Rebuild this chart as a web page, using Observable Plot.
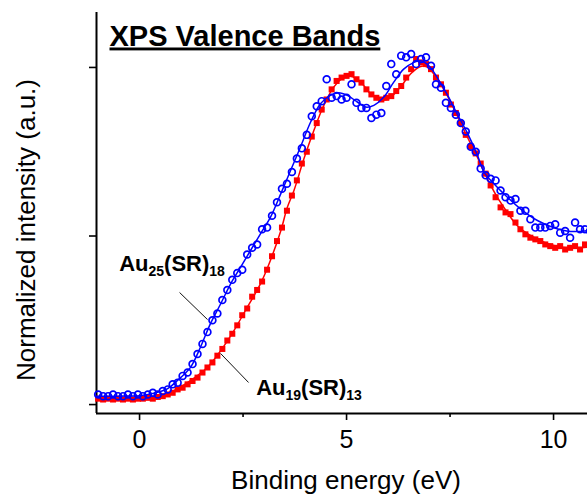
<!DOCTYPE html>
<html><head><meta charset="utf-8">
<script src="https://cdn.jsdelivr.net/npm/d3@7"></script>
<script src="https://cdn.jsdelivr.net/npm/@observablehq/plot@0.6"></script>
<style>html,body{margin:0;padding:0;background:#fff} svg{display:block}</style>
</head><body><div id="chart"></div>
<script>
const chartTitle = "XPS Valence Bands";
const xLabel = "Binding energy (eV)";
const yLabel = "Normalized intensity (a.u.)";
const xTicks = [0, 5, 10];
const xMinorTicks = [2.5, 7.5];
const yTicks = [0, 1, 2];

// Au25(SR)18 measured points (blue open circles)
const blueE = [-1.00,-0.88,-0.76,-0.64,-0.52,-0.40,-0.28,-0.16,-0.04,0.08,0.20,0.32,0.44,0.56,0.68,0.80,0.92,1.04,1.16,1.28,1.40,1.52,1.64,1.76,1.88,2.00,2.12,2.24,2.36,2.48,2.60,2.72,2.84,2.96,3.08,3.20,3.32,3.44,3.56,3.68,3.80,3.92,4.04,4.16,4.28,4.40,4.52,4.64,4.76,4.88,5.00,5.12,5.24,5.36,5.48,5.60,5.72,5.84,5.96,6.08,6.20,6.32,6.44,6.56,6.68,6.80,6.92,7.04,7.16,7.28,7.40,7.52,7.64,7.76,7.88,8.00,8.12,8.24,8.36,8.48,8.60,8.72,8.84,8.96,9.08,9.20,9.32,9.44,9.56,9.68,9.80,9.92,10.04,10.16,10.28,10.40,10.52,10.64,10.76,10.88];
const blueI = [0.06,0.05,0.05,0.06,0.05,0.05,0.06,0.05,0.06,0.05,0.06,0.07,0.06,0.08,0.09,0.12,0.13,0.17,0.19,0.24,0.30,0.36,0.43,0.50,0.54,0.62,0.68,0.74,0.78,0.80,0.89,0.93,0.95,1.04,1.05,1.12,1.20,1.28,1.31,1.38,1.46,1.52,1.60,1.71,1.77,1.80,1.93,1.82,1.83,1.81,1.82,1.90,1.79,1.76,1.76,1.70,1.72,1.73,1.89,2.02,1.96,2.07,2.06,2.08,2.02,2.05,2.06,2.01,1.90,1.88,1.79,1.76,1.72,1.67,1.62,1.53,1.50,1.40,1.36,1.34,1.33,1.27,1.23,1.21,1.22,1.15,1.15,1.10,1.05,1.05,1.05,1.06,1.07,1.02,1.03,0.99,1.08,1.04,1.04,1.03];

// Au25(SR)18 fit line
const blueFitE = [-1.04,-0.5,0,0.3,0.67,0.91,1.23,1.47,1.71,1.96,2.2,2.44,2.68,2.92,3.16,3.41,3.65,3.89,4.13,4.37,4.61,4.81,5.02,5.26,5.46,5.66,5.9,6.14,6.38,6.63,6.79,6.99,7.19,7.43,7.67,7.92,8.16,8.32,8.56,8.80,9.20,9.61,10.01,10.41,10.85];
const blueFitI = [0.05,0.05,0.053,0.065,0.093,0.142,0.221,0.34,0.479,0.598,0.716,0.815,0.914,1.013,1.11,1.25,1.39,1.53,1.675,1.785,1.834,1.85,1.834,1.795,1.765,1.775,1.824,1.913,1.99,2.03,2.04,2.01,1.94,1.84,1.725,1.61,1.48,1.379,1.31,1.25,1.161,1.092,1.049,1.027,1.033];

// Au19(SR)13 measured points (red filled squares)
const redE = [-1.00,-0.88,-0.76,-0.64,-0.52,-0.40,-0.28,-0.16,-0.04,0.08,0.20,0.32,0.44,0.56,0.68,0.80,0.92,1.04,1.16,1.28,1.40,1.52,1.64,1.76,1.88,2.00,2.12,2.24,2.36,2.48,2.60,2.72,2.84,2.96,3.08,3.20,3.32,3.44,3.56,3.68,3.80,3.92,4.04,4.16,4.28,4.40,4.52,4.64,4.76,4.88,5.00,5.12,5.24,5.36,5.48,5.60,5.72,5.84,5.96,6.08,6.20,6.32,6.44,6.56,6.68,6.80,6.92,7.04,7.16,7.28,7.40,7.52,7.64,7.76,7.88,8.00,8.12,8.24,8.36,8.48,8.60,8.72,8.84,8.96,9.08,9.20,9.32,9.44,9.56,9.68,9.80,9.92,10.04,10.16,10.28,10.40,10.52,10.64,10.76,10.88];
const redI = [0.035,0.03,0.035,0.03,0.035,0.03,0.035,0.03,0.035,0.035,0.04,0.035,0.045,0.05,0.06,0.07,0.09,0.10,0.12,0.14,0.16,0.19,0.22,0.25,0.29,0.33,0.38,0.42,0.47,0.53,0.57,0.64,0.68,0.73,0.80,0.88,0.97,1.05,1.15,1.24,1.33,1.43,1.50,1.59,1.67,1.75,1.81,1.87,1.92,1.94,1.95,1.96,1.93,1.91,1.87,1.84,1.82,1.81,1.82,1.83,1.86,1.89,1.94,1.99,2.05,2.03,2.02,1.99,1.94,1.90,1.85,1.78,1.73,1.67,1.60,1.53,1.49,1.43,1.37,1.30,1.23,1.17,1.14,1.13,1.08,1.04,1.01,0.99,0.98,0.97,0.95,0.94,0.93,0.94,0.92,0.93,0.94,0.92,0.95,0.93];

// Au19(SR)13 fit line
const redFitE = [-1.04,-0.5,0,0.43,0.83,1.23,1.64,1.96,2.28,2.6,2.92,3.16,3.41,3.57,3.73,3.97,4.21,4.45,4.69,4.93,5.10,5.34,5.58,5.82,6.02,6.30,6.55,6.79,6.95,7.19,7.43,7.67,7.92,8.16,8.40,8.64,8.88,9.12,9.44,9.77,10.17,10.57,10.85];
const redFitI = [0.035,0.035,0.037,0.043,0.083,0.142,0.221,0.32,0.439,0.577,0.716,0.855,1.03,1.17,1.27,1.458,1.626,1.774,1.883,1.94,1.947,1.913,1.844,1.808,1.814,1.883,1.963,2.006,2.002,1.933,1.834,1.715,1.586,1.468,1.34,1.23,1.141,1.062,1.003,0.963,0.934,0.93,0.934];

// Series labels and leader lines
const labelMain = ["Au", "Au"];
const labelSub1 = ["25", "19"];
const labelMid = ["(SR)", "(SR)"];
const labelSub2 = ["18", "13"];
const labelE = [-0.48, 2.83];
const labelI = [0.789, 0.053];
const leaderE1 = [0.966, 1.957];
const leaderI1 = [0.665, 0.303];
const leaderE2 = [1.643, 2.633];
const leaderI2 = [0.504, 0.131];

const BLUE = "#0000ff";
const RED = "#ff0000";
const FONT = '"Liberation Sans", Arial, Helvetica, sans-serif';

const blue = blueE.map((e, i) => ({e, v: blueI[i]}));
const red = redE.map((e, i) => ({e, v: redI[i]}));
const blueFit = blueFitE.map((e, i) => ({e, v: blueFitI[i]}));
const redFit = redFitE.map((e, i) => ({e, v: redFitI[i]}));
const leaders = leaderE1.map((e, i) => ({x1: e, y1: leaderI1[i], x2: leaderE2[i], y2: leaderI2[i]}));

const xDomain = [-1.04, 10.82];
const yDomain = [-0.053, 2.326];

const plot = Plot.plot({
  width: 587, height: 496,
  marginLeft: 96, marginRight: 0, marginTop: 12, marginBottom: 83,
  x: {domain: xDomain},
  y: {domain: yDomain},
  style: {fontFamily: FONT, fontSize: "25px", background: "white", color: "black", overflow: "hidden"},
  marks: [
    Plot.axisX({ticks: xTicks, tickSize: 7, tickPadding: 10, strokeWidth: 1.6, label: null}),
    Plot.axisX({ticks: xMinorTicks, tickSize: 4, strokeWidth: 1.6, tickFormat: () => "", label: null}),
    Plot.axisY({ticks: yTicks, tickSize: 7, strokeWidth: 1.6, tickFormat: () => "", label: null}),
    Plot.ruleX([xDomain[0]], {stroke: "black", strokeWidth: 2}),
    Plot.ruleY([yDomain[0]], {stroke: "black", strokeWidth: 2}),
    Plot.dot(red, {x: "e", y: "v", symbol: "square", r: 3.4, fill: RED, stroke: "none"}),
    Plot.line(redFit, {x: "e", y: "v", stroke: RED, strokeWidth: 1.5, curve: "catmull-rom"}),
    Plot.dot(blue, {x: "e", y: "v", symbol: "circle", r: 3.4, fill: "none", stroke: BLUE, strokeWidth: 1.7}),
    Plot.line(blueFit, {x: "e", y: "v", stroke: BLUE, strokeWidth: 1.5, curve: "catmull-rom"}),
    Plot.link(leaders, {x1: "x1", y1: "y1", x2: "x2", y2: "y2", stroke: "#111", strokeWidth: 1}),
    Plot.text([chartTitle], {frameAnchor: "top-left", dx: 13, dy: 33, lineAnchor: "bottom", textAnchor: "start", fontSize: 29, fontWeight: "bold"}),
    Plot.text([xLabel], {frameAnchor: "bottom", dx: 4, dy: 75, lineAnchor: "bottom", fontSize: 26}),
    Plot.text([yLabel], {frameAnchor: "left", dx: -62, dy: 17, rotate: -90, textAnchor: "middle", lineAnchor: "bottom", fontSize: 26})
  ]
});

// series labels with subscripts, positioned through the plot's scales
const sx = plot.scale("x"), sy = plot.scale("y");
const svg = d3.select(plot);
svg.selectAll("text").filter(function() { return this.textContent === chartTitle; })
  .style("text-decoration", "underline");
labelMain.forEach((m, i) => {
  const t = svg.append("text")
    .attr("x", sx.apply(labelE[i]))
    .attr("y", sy.apply(labelI[i]))
    .attr("text-anchor", "start")
    .attr("font-family", FONT)
    .attr("font-size", 22)
    .attr("font-weight", "bold")
    .attr("fill", "black");
  t.append("tspan").text(m);
  t.append("tspan").attr("font-size", 14).attr("dy", 5).text(labelSub1[i]);
  t.append("tspan").attr("dy", -5).text(labelMid[i]);
  t.append("tspan").attr("font-size", 14).attr("dy", 5).text(labelSub2[i]);
});

document.getElementById("chart").appendChild(plot);
</script>
</body></html>
